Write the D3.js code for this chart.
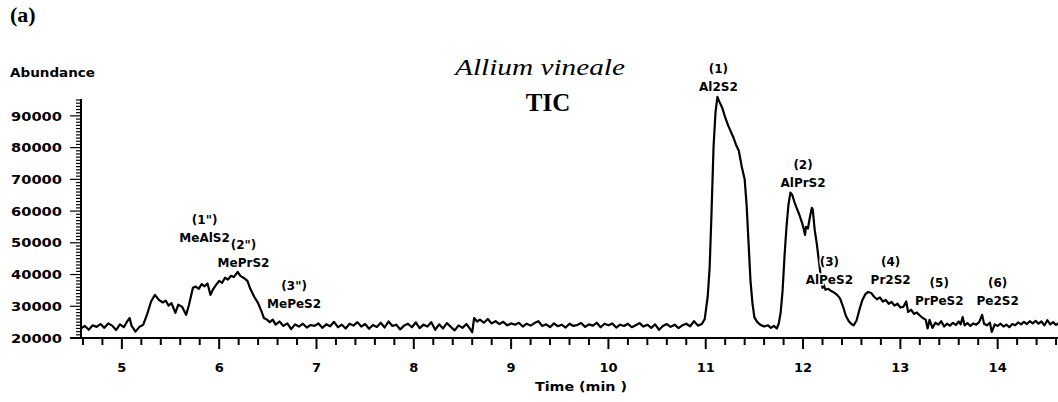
<!DOCTYPE html>
<html>
<head>
<meta charset="utf-8">
<script src="https://d3js.org/d3.v7.min.js"></script>
<style>
  body { margin: 0; background: #fff; }
  svg { display: block; }
  .tick-label { font-family: "DejaVu Sans", sans-serif; font-weight: bold; font-size: 13px; fill: #000; }
  .peak-label { font-family: "DejaVu Sans", sans-serif; font-weight: bold; font-size: 12px; fill: #000;
                stroke: #fff; stroke-width: 3px; paint-order: stroke; }
</style>
</head>
<body>
<svg id="tic" width="1058" height="402"></svg>
<script>
// trace, [time (min), abundance]
const earlyTrace = [
  [4.58,23000],[4.62,23800],[4.66,22600],[4.70,24000],[4.74,23500],[4.78,24400],[4.82,23200],
  [4.86,24600],[4.90,23900],[4.94,22500],[4.98,24300],[5.02,23400],[5.06,25500],[5.08,26300],
  [5.10,23800],[5.14,22000],[5.18,23500],[5.22,24200],[5.26,27500],[5.30,31500],[5.34,33600]
];
const methylTrace = [
  [5.38,32000],[5.42,31200],[5.45,31800],[5.48,30200],[5.51,31000],[5.55,27900],[5.58,30500],
  [5.62,29800],[5.66,27300],[5.69,30500],[5.73,35800],[5.76,36200],[5.79,35500],[5.82,37000],
  [5.85,36300],[5.88,37200],[5.91,33600],[5.94,35500],[5.97,36800],[6.00,38000],[6.03,37400],
  [6.06,39000],[6.09,38400],[6.12,39600],[6.15,39200],[6.19,40800],[6.22,39500],[6.25,39000],
  [6.29,38000],[6.32,35500],[6.36,33000],[6.40,31000],[6.43,28800],[6.46,26300],[6.49,25800],
  [6.52,25000],[6.55,25800],[6.58,24200],[6.62,25200],[6.66,23800],[6.70,24600],[6.74,22800],
  [6.78,24300]
];
const baselineTrace = [
  [6.82,23600],[6.86,24500],[6.90,23300],[6.94,24100],[6.98,23800],[7.02,24600],[7.06,23200],
  [7.10,24300],[7.14,23700],[7.18,25100],[7.22,23400],[7.26,24200],[7.30,23000],[7.34,24500],
  [7.38,23900],[7.42,25000],[7.46,23600],[7.50,24400],[7.54,22900],[7.58,24100],[7.62,23500],
  [7.66,24800],[7.70,23300],[7.74,25200],[7.78,23800],[7.82,24200],[7.86,22700],[7.90,23900],
  [7.94,24500],[7.98,23400],[8.02,24900],[8.06,23100],[8.10,24200],[8.14,23600],[8.18,25000],
  [8.22,22600],[8.26,24300],[8.30,23000],[8.34,24700],[8.38,23500],[8.42,22400],[8.46,24000],
  [8.50,23200],[8.54,24400],[8.58,22800],[8.60,21800],[8.62,26300],[8.65,25200],[8.68,25800],
  [8.72,24800],[8.76,26000],[8.80,24600],[8.84,25300],[8.88,24400],[8.92,25100],[8.96,24000],
  [9.00,24600],[9.04,24200],[9.08,24800],[9.12,23600],[9.16,24500],[9.20,23900],[9.24,24700],
  [9.28,25300],[9.32,23800],[9.36,24300],[9.40,23400],[9.44,24600],[9.48,23700],[9.52,24200],
  [9.56,23300],[9.60,24500],[9.64,23800],[9.68,24100],[9.72,24700],[9.76,23500],[9.80,24300],
  [9.84,23900],[9.88,24800],[9.92,23400],[9.96,24500],[10.00,24000],[10.04,24600],[10.08,23300],
  [10.12,24200],[10.16,23800],[10.20,24500],[10.24,23400],[10.28,24000],[10.32,24700],[10.36,23600],
  [10.40,24200],[10.44,23200],[10.48,24300],[10.52,22600],[10.56,23800],[10.60,24400],[10.64,23500],
  [10.68,24200],[10.72,23100],[10.76,24000],[10.80,24500],[10.84,23700],[10.88,25300],[10.92,23900],
  [10.96,24400]
];
const allylTrace = [
  [10.99,26000],[11.02,33000],[11.04,42000],[11.06,60000],[11.08,80000],[11.10,91000],[11.12,96000],
  [11.14,94500],[11.17,92500],[11.20,89500],[11.23,87000],[11.25,85600],[11.28,83500],[11.31,81000],
  [11.34,79000],[11.37,74000],[11.40,70000],[11.42,62000],[11.44,50000],[11.46,38000],[11.48,31000],
  [11.50,26500],[11.53,25000],[11.56,24200],[11.60,23600],[11.64,24000],[11.67,23200],[11.70,23800],
  [11.73,23000],[11.75,24500],[11.77,28000],[11.79,35000],[11.81,46000],[11.83,55000],[11.85,62000],
  [11.87,65800],[11.89,65000],[11.91,63000],[11.93,61300],[11.96,59000],[11.99,56300],[12.01,54000],
  [12.02,52500],[12.03,55000],[12.05,54500],[12.07,58000],[12.09,61000],[12.10,60500],[12.12,54000],
  [12.14,50000],[12.16,45000],[12.18,40000],[12.20,35800],[12.21,37000],[12.23,35200],[12.26,35500],
  [12.29,34800],[12.32,34300],[12.35,33600],[12.38,32500],[12.41,30000],[12.44,27000],[12.47,25300],
  [12.50,24300],[12.52,24000],[12.55,25500],[12.58,29000],[12.61,32000],[12.64,33800],[12.67,34500],
  [12.70,34200],[12.73,33000],[12.76,32200],[12.79,32800],[12.82,31500],[12.85,32000],[12.88,30800],
  [12.91,31400],[12.94,30200],[12.97,30800],[13.00,29600],[13.03,29800],[13.06,31500],[13.08,28200],
  [13.11,28900],[13.14,27600],[13.17,28000],[13.20,27100],[13.23,26300],[13.26,25800],[13.28,23000],
  [13.30,25700],[13.33,23200],[13.36,24800],[13.39,24200],[13.42,25300]
];
const lateTrace = [
  [13.45,23600],[13.48,24500],[13.51,23900],[13.54,24800],[13.57,24100],[13.60,25200],[13.62,24300],
  [13.64,26600],[13.66,24000],[13.69,24700],[13.72,23800],[13.75,24600],[13.78,24200],[13.81,25000],
  [13.84,27300],[13.86,24500],[13.89,24000],[13.92,24800],[13.94,21900],[13.97,24300],[14.00,23800],
  [14.03,24500],[14.06,23600],[14.09,24200],[14.12,23400],[14.15,24400],[14.18,24000],[14.21,24900],
  [14.24,24300],[14.27,25100],[14.30,24400],[14.33,25300],[14.36,24600],[14.39,25400],[14.42,24500],
  [14.45,25200],[14.48,24000],[14.51,25600],[14.54,24300],[14.57,25000],[14.60,24100],[14.63,24800]
];

// peak annotations: id, compound, label anchor [time, abundance]
const peakIds = ['(1")', '(2")', '(3")', "(1)", "(2)", "(3)", "(4)", "(5)", "(6)"];
const peakNames = ["MeAlS2", "MePrS2", "MePeS2", "Al2S2", "AlPrS2", "AlPeS2", "Pr2S2", "PrPeS2", "Pe2S2"];
const peakTimes = [5.85, 6.25, 6.77, 11.13, 12.0, 12.27, 12.9, 13.40, 14.0];
const peakLabelLevels = [51500, 43700, 30700, 99200, 68900, 38300, 38300, 31700, 31700];

const xTickValues = [5, 6, 7, 8, 9, 10, 11, 12, 13, 14];
const yTickValues = [20000, 30000, 40000, 50000, 60000, 70000, 80000, 90000];

const trace = [].concat(earlyTrace, methylTrace, baselineTrace, allylTrace, lateTrace);

const svg = d3.select("#tic");

//scales
const x = d3.scaleLinear().domain([4.58, 14.62]).range([81, 1058]);
const y = d3.scaleLinear().domain([20000, 95000]).range([338, 100]);

//x axis: line, minor ticks every 0.2 min, major every minute
svg.append("line")
    .attr("x1", 70).attr("x2", 1058)
    .attr("y1", y(20000)).attr("y2", y(20000))
    .attr("stroke", "#000").attr("stroke-width", 2);

const xMinor = d3.range(4.6, 14.61, 0.2);
svg.append("g").selectAll("line")
    .data(xMinor)
    .join("line")
    .attr("x1", d => x(d)).attr("x2", d => x(d))
    .attr("y1", y(20000))
    .attr("y2", d => Math.abs(d - Math.round(d)) < 0.01 ? y(20000) + 11 : y(20000) + 7)
    .attr("stroke", "#000").attr("stroke-width", 2);

svg.append("g").selectAll("text")
    .data(xTickValues)
    .join("text")
    .attr("class", "tick-label")
    .attr("x", d => x(d))
    .attr("y", 372)
    .attr("text-anchor", "middle")
    .text(d => d);

//y axis: line, minor ticks every 1000, labelled every 10000
svg.append("line")
    .attr("x1", 81).attr("x2", 81)
    .attr("y1", y(95300)).attr("y2", y(20000) + 1)
    .attr("stroke", "#000").attr("stroke-width", 2);

const yMinor = d3.range(20000, 95001, 1000);
svg.append("g").selectAll("line")
    .data(yMinor)
    .join("line")
    .attr("x1", d => d % 10000 === 0 ? 70 : 76)
    .attr("x2", 81)
    .attr("y1", d => y(d)).attr("y2", d => y(d))
    .attr("stroke", "#000").attr("stroke-width", 1.2);

svg.append("g").selectAll("text")
    .data(yTickValues)
    .join("text")
    .attr("class", "tick-label")
    .attr("x", 62)
    .attr("y", d => y(d))
    .attr("dy", "0.36em")
    .attr("text-anchor", "end")
    .attr("textLength", 51)
    .attr("lengthAdjust", "spacingAndGlyphs")
    .text(d => d);

//the TIC trace
const line = d3.line()
    .x(d => x(d[0]))
    .y(d => y(d[1]));

svg.append("path")
    .datum(trace)
    .attr("d", line)
    .attr("fill", "none")
    .attr("stroke", "#000")
    .attr("stroke-width", 2.2)
    .attr("stroke-linejoin", "round");

//peak labels, drawn over the trace with a white knock-out
const labels = svg.append("g").selectAll("g")
    .data(peakNames)
    .join("g")
    .attr("transform", (d, i) => "translate(" + x(peakTimes[i]) + "," + y(peakLabelLevels[i]) + ")");
labels.append("text")
    .attr("class", "peak-label")
    .attr("text-anchor", "middle")
    .attr("dy", "0.36em")
    .text(d => d);
labels.append("text")
    .attr("class", "peak-label")
    .attr("text-anchor", "middle")
    .attr("y", -18)
    .attr("dy", "0.36em")
    .text((d, i) => peakIds[i]);

//titles
svg.append("text")
    .attr("x", 10).attr("y", 22)
    .style("font-family", "'Liberation Serif', serif")
    .style("font-weight", "bold")
    .style("font-size", "22px")
    .text("(a)");

svg.append("text")
    .attr("x", 10).attr("y", 77)
    .attr("textLength", 85)
    .attr("lengthAdjust", "spacingAndGlyphs")
    .style("font-family", "'DejaVu Sans', sans-serif")
    .style("font-weight", "bold")
    .style("font-size", "11.5px")
    .text("Abundance");

svg.append("text")
    .attr("x", 540).attr("y", 75)
    .attr("text-anchor", "middle")
    .attr("textLength", 170)
    .attr("lengthAdjust", "spacingAndGlyphs")
    .style("font-family", "'Liberation Serif', serif")
    .style("font-style", "italic")
    .style("font-size", "23px")
    .text("Allium vineale");

svg.append("text")
    .attr("x", 548).attr("y", 111)
    .attr("text-anchor", "middle")
    .style("font-family", "'Liberation Serif', serif")
    .style("font-weight", "bold")
    .style("font-size", "25px")
    .text("TIC");

svg.append("text")
    .attr("x", 581).attr("y", 391)
    .attr("text-anchor", "middle")
    .attr("textLength", 92)
    .attr("lengthAdjust", "spacingAndGlyphs")
    .style("font-family", "'DejaVu Sans', sans-serif")
    .style("font-weight", "bold")
    .style("font-size", "12.5px")
    .text("Time (min )");
</script>
</body>
</html>
